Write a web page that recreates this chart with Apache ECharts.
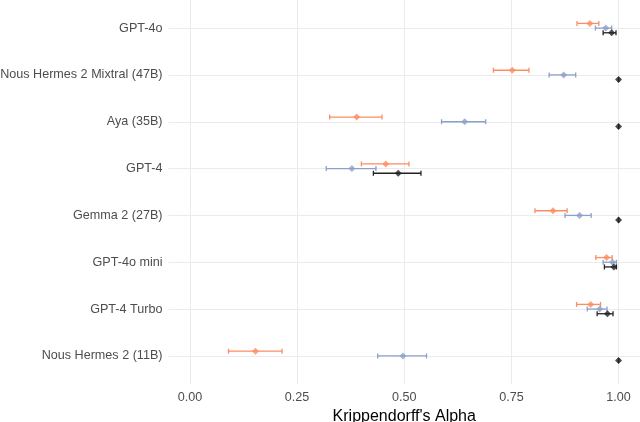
<!DOCTYPE html>
<html>
<head>
<meta charset="utf-8">
<script src="https://cdn.jsdelivr.net/npm/echarts@6/dist/echarts.min.js"></script>
<style>html,body{margin:0;padding:0;background:#fff;}#c{width:640px;height:422px;}</style>
</head>
<body>
<div id="c"></div>
<script>
var categories = ["GPT-4o", "Nous Hermes 2 Mixtral (47B)", "Aya (35B)", "GPT-4", "Gemma 2 (27B)", "GPT-4o mini", "GPT-4 Turbo", "Nous Hermes 2 (11B)"];
var xTicks = [0, 0.25, 0.5, 0.75, 1.0];
// [estimate, lower, upper] per category
var orangeVals = [[0.933,0.903,0.954],[0.752,0.708,0.791],[0.389,0.326,0.448],[0.457,0.400,0.511],[0.847,0.805,0.880],[0.972,0.947,0.985],[0.935,0.902,0.958],[0.153,0.090,0.215]];
var blueVals   = [[0.970,0.946,0.984],[0.872,0.838,0.900],[0.641,0.587,0.690],[0.378,0.318,0.434],[0.909,0.875,0.936],[0.986,0.964,0.995],[0.956,0.927,0.973],[0.497,0.438,0.552]];
var blackVals  = [[0.984,0.964,0.994],[1.0,1.0,1.0],[1.0,1.0,1.0],[0.486,0.428,0.539],[1.0,1.0,1.0],[0.989,0.967,0.995],[0.974,0.950,0.987],[1.0,1.0,1.0]];

var groups = [
  {name: "orange", vals: orangeVals, color: "#FC8D62", off: -0.1},
  {name: "blue", vals: blueVals, color: "#8DA0CB", off: 0},
  {name: "black", vals: blackVals, color: "#222222", off: 0.1}
];

var series = [];
groups.forEach(function(g){
  var d = g.vals.map(function(v, i){ return [v[1], v[2], i + 1 + g.off, v[0]]; });
  series.push({
    type: 'custom',
    name: g.name + '_err',
    data: d,
    encode: {x: [0, 1], y: 2},
    renderItem: function(params, api){
      var lo = api.coord([api.value(0), api.value(2)]);
      var hi = api.coord([api.value(1), api.value(2)]);
      var h = 2.5;
      var st = {stroke: g.color, lineWidth: 1.3};
      return {type: 'group', children: [
        {type: 'line', shape: {x1: lo[0], y1: lo[1], x2: hi[0], y2: hi[1]}, style: st},
        {type: 'line', shape: {x1: lo[0], y1: lo[1]-h, x2: lo[0], y2: lo[1]+h}, style: st},
        {type: 'line', shape: {x1: hi[0], y1: hi[1]-h, x2: hi[0], y2: hi[1]+h}, style: st}
      ]};
    },
    z: 2
  });
  series.push({
    type: 'scatter',
    name: g.name,
    data: g.vals.map(function(v, i){ return [v[0], i + 1 + g.off]; }),
    symbol: 'diamond',
    symbolSize: [7, 7],
    itemStyle: {color: g.color},
    z: 3
  });
});

var chart = echarts.init(document.getElementById('c'));
chart.setOption({
  animation: false,
  grid: {left: 168.5, right: 0, top: 0, bottom: 38, containLabel: false, outerBoundsMode: 'none'},
  xAxis: {
    type: 'value', min: -0.05, max: 1.05,
    name: "Krippendorff's Alpha", nameLocation: 'middle', nameGap: 21,
    nameTextStyle: {fontFamily: 'Liberation Sans', fontSize: 16, color: '#000'},
    axisLine: {show: false}, axisTick: {show: false, customValues: xTicks},
    axisLabel: {customValues: xTicks, fontFamily: 'Liberation Sans', fontSize: 12.6, color: '#4d4d4d', margin: 7,
      formatter: function(v){ return v.toFixed(2); }},
    splitLine: {show: true, lineStyle: {color: '#ebebeb', width: 1}}
  },
  yAxis: {
    type: 'value', inverse: true, min: 0.4, max: 8.6,
    axisLine: {show: false}, axisTick: {show: false, customValues: [1,2,3,4,5,6,7,8]},
    axisLabel: {customValues: [1,2,3,4,5,6,7,8], fontFamily: 'Liberation Sans', fontSize: 12.6, color: '#4d4d4d', margin: 6,
      formatter: function(v){ return categories[Math.round(v) - 1] || ''; }},
    splitLine: {show: true, lineStyle: {color: '#ebebeb', width: 1.2}}
  },
  series: series
});
</script>
</body>
</html>
